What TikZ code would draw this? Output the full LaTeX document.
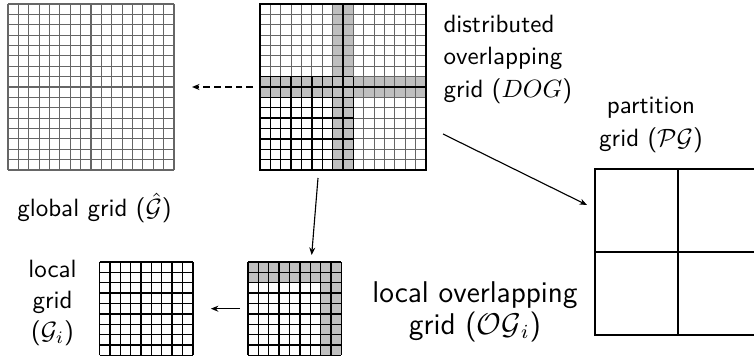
\documentclass[tikz,border=0pt]{standalone}
\usetikzlibrary{arrows.meta,calc}
\begin{document}
\begin{tikzpicture}[x=0.4pt,y=-0.4pt,
  gridbox/.style={minimum width=#1, minimum height=#1, inner sep=0pt, outer sep=0pt},
  graygrid/.style={draw=black!60, line width=0.45pt},
  blackgrid/.style={draw=black, line width=0.55pt},
  heavy/.style={draw=black, line width=0.85pt},
  overlap/.style={fill=black!25},
  link/.style={line width=0.45pt, -{Stealth[length=3pt,width=2.4pt]}},
  dashlink/.style={link, dash pattern=on 2.7pt off 1.6pt},
  lbl/.style={inner sep=0pt, font=\sffamily\fontsize{10}{#1}\selectfont},
  lbl/.default=12.5pt]
\def\c{10.375}
\useasboundingbox (0,0) rectangle (754,360);
\clip (0,0) rectangle (754,360);

% grid frames, used as anchors for the connectors
\node[gridbox=66.4pt] (gg)  at (91,87) {};
\node[gridbox=66.4pt] (dog) at (343,87) {};
\node[gridbox=37.35pt] (og) at (294.69,308.69) {};
\node[gridbox=37.35pt] (gi) at (146.19,308.69) {};
\node[gridbox=66.4pt] (pg)  at (678,252) {};

% global grid: 16 x 16 cells
\begin{scope}[shift={(gg.north west)}]
  \foreach \i in {0,...,16} {
    \draw[graygrid] (\i*\c,0) -- (\i*\c,16*\c);
    \draw[graygrid] (0,\i*\c) -- (16*\c,\i*\c);
  }
\end{scope}

% distributed overlapping grid
\begin{scope}[shift={(dog.north west)}]
  \fill[overlap] (7*\c,0) rectangle (9*\c,16*\c);
  \fill[overlap] (0,7*\c) rectangle (16*\c,9*\c);
  \foreach \i in {0,...,16} {
    \draw[graygrid] (\i*\c,0) -- (\i*\c,16*\c);
    \draw[graygrid] (0,\i*\c) -- (16*\c,\i*\c);
  }
  % lower-left block with its overlap
  \foreach \i in {0,...,9} {
    \draw[blackgrid] (\i*\c,7*\c) -- (\i*\c,16*\c);
    \draw[blackgrid] (0,7*\c+\i*\c) -- (9*\c,7*\c+\i*\c);
  }
  \draw[heavy] (8*\c,0) -- (8*\c,16*\c);
  \draw[heavy] (0,8*\c) -- (16*\c,8*\c);
  \draw[heavy] (0,0) rectangle (16*\c,16*\c);
\end{scope}

% local overlapping grid: 9 x 9 cells
\begin{scope}[shift={(og.north west)}]
  \fill[overlap] (0,0) rectangle (9*\c,2*\c);
  \fill[overlap] (7*\c,0) rectangle (9*\c,9*\c);
  \foreach \i in {0,...,9} {
    \draw[blackgrid] (\i*\c,0) -- (\i*\c,9*\c);
    \draw[blackgrid] (0,\i*\c) -- (9*\c,\i*\c);
  }
\end{scope}

% local grid: 9 x 9 cells
\begin{scope}[shift={(gi.north west)}]
  \foreach \i in {0,...,9} {
    \draw[blackgrid] (\i*\c,0) -- (\i*\c,9*\c);
    \draw[blackgrid] (0,\i*\c) -- (9*\c,\i*\c);
  }
\end{scope}

% partition grid: 2 x 2 blocks
\draw[heavy] (pg.north west) rectangle (pg.south east);
\draw[heavy] (pg.north) -- (pg.south);
\draw[heavy] (pg.west) -- (pg.east);

% connectors
\draw[dashlink] ($(dog.west)+(-7,0)$) -- ($(gg.east)+(18,0)$);
\draw[link] ($(dog.south)+(-25,8)$) -- ($(og.north)+(17,-7)$);
\draw[link] ($(og.west)+(-8,0)$) -- ($(gi.east)+(18,0)$);
\draw[link] ($(dog.east)+(17,47)$) -- ($(pg.west)+(-8,-47)$);

% labels
\node[lbl=13pt, align=left, anchor=north west] (doglbl) at (443,14.5)
  {distributed\\overlapping\\grid ($DOG$)};
\node[lbl=13pt, align=center, anchor=north] (pglbl) at (651,97)
  {partition\\grid ($\mathcal{PG}$)};
\node[lbl, anchor=base] (gglbl) at (94.5,216.7) {global grid ($\hat{\mathcal{G}}$)};
\node[lbl=12.4pt, align=center, anchor=north] (gilbl) at (52.5,259.5)
  {local\\grid\\($\mathcal{G}_i$)};
\node[inner sep=0pt, font=\sffamily\fontsize{12}{12.7}\selectfont, align=center,
  anchor=north] (oglbl) at (475,281)
  {local overlapping\\grid ($\mathcal{OG}_i$)};
\end{tikzpicture}
\end{document}
